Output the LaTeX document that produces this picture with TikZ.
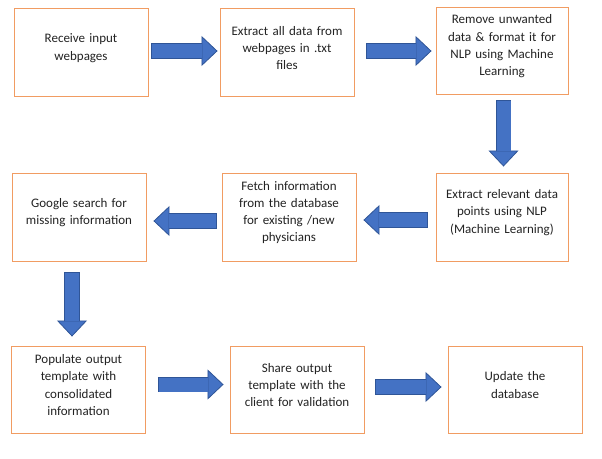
\documentclass[tikz,border=0pt]{standalone}
\usepackage{fontspec}
\setmainfont{Carlito}
\usepackage{tikz}
\usetikzlibrary{arrows.meta, positioning, calc}
\definecolor{boxedge}{RGB}{241,156,98}
\definecolor{arrowfill}{RGB}{68,114,196}
\definecolor{arrowedge}{RGB}{47,85,151}
\definecolor{txtdark}{RGB}{35,35,35}
\tikzset{
  stepbox/.style={rectangle, draw=boxedge, fill=white, line width=0.9pt,
    minimum width=134pt, minimum height=88pt, inner sep=0pt,
    text width=132pt, align=center, text=txtdark,
    font=\fontsize{13}{17.3}\selectfont,
    execute at end node={\par\vspace{9pt}}},
  blockarrow/.style={draw=arrowedge, line width=15.5pt,
    -{Triangle[length=16pt, width=30pt, line width=0.8pt, fill=arrowfill]},
    postaction={draw=arrowfill, line width=14pt, arrows=-,
      shorten <=0.8pt, shorten >=15.2pt}}
}
\begin{document}
\begin{tikzpicture}[x=1pt, y=-1pt]
  \useasboundingbox (0,0) rectangle (602,458);

  % First row
  \node[stepbox] (receive) at (81,52.5) {Receive input\\webpages};
  \node[stepbox] (extract) at (287,52.5) {Extract all data from\\webpages in .txt\\files};
  \node[stepbox, minimum width=132pt, minimum height=87pt] (clean) at (502,51)
    {Remove unwanted\\data \& format it for\\NLP using Machine\\Learning};

  % Second row
  \node[stepbox, minimum width=132pt] (nlp) at (502,217)
    {Extract relevant data\\points using NLP\\(Machine Learning)};
  \node[stepbox] (fetch) at (289,217)
    {Fetch information\\from the database\\for existing /new\\physicians};
  \node[stepbox] (google) at (79,217) {Google search for\\missing information};

  % Third row
  \node[stepbox, minimum height=87pt] (populate) at (78.5,389.5)
    {Populate output\\template with\\consolidated\\information};
  \node[stepbox, minimum height=87pt] (share) at (297,389.5)
    {Share output\\template with the\\client for validation};
  \node[stepbox, minimum height=87pt] (update) at (515,389.5) {Update the\\database};

  % Block arrows
  \draw[blockarrow] ([xshift=3pt,yshift=1.5pt]receive.east) -- ([xshift=-2pt,yshift=1.5pt]extract.west);
  \draw[blockarrow] ([xshift=12pt,yshift=1.5pt]extract.east) -- ([xshift=-4pt]clean.west);
  \draw[blockarrow] ([xshift=1.5pt,yshift=-5.5pt]clean.south) -- ([xshift=1.5pt,yshift=6pt]nlp.north);
  \draw[blockarrow] ([xshift=-8pt,yshift=-3pt]nlp.west) -- ([xshift=7pt,yshift=-3pt]fetch.east);
  \draw[blockarrow] ([xshift=-5pt,yshift=-4pt]fetch.west) -- ([xshift=7pt,yshift=-4pt]google.east);
  \draw[blockarrow] ([xshift=-7pt,yshift=-11pt]google.south) -- ([xshift=-6.5pt,yshift=9pt]populate.north);
  \draw[blockarrow] ([xshift=12pt,yshift=5pt]populate.east) -- ([xshift=-6pt,yshift=5pt]share.west);
  \draw[blockarrow] ([xshift=11pt,yshift=2.5pt]share.east) -- ([xshift=-6pt,yshift=2.5pt]update.west);
\end{tikzpicture}
\end{document}
